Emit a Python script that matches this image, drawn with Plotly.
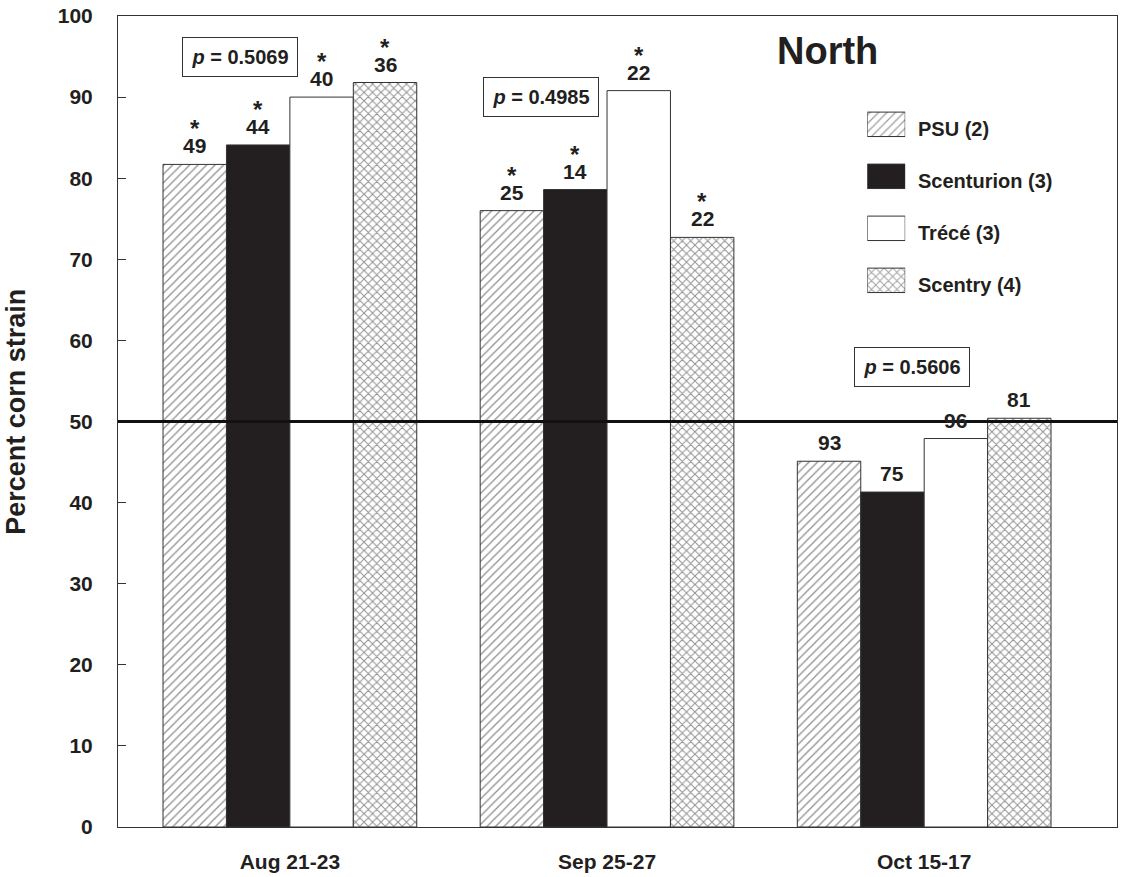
import plotly.graph_objects as go

# ---------------- data ----------------
categories = ["Aug 21-23", "Sep 25-27", "Oct 15-17"]
series_names = ["PSU (2)", "Scenturion (3)", "Trécé (3)", "Scentry (4)"]
psu = [81.7, 76.0, 45.1]
scenturion = [84.1, 78.6, 41.3]
trece = [90.0, 90.8, 47.9]
scentry = [91.8, 72.7, 50.4]
values = [psu, scenturion, trece, scentry]

n_psu = ["49", "25", "93"]
n_scenturion = ["44", "14", "75"]
n_trece = ["40", "22", "96"]
n_scentry = ["36", "22", "81"]
n_labels = [n_psu, n_scenturion, n_trece, n_scentry]

significant = [True, True, False]  # asterisks per date
p_values = ["0.5069", "0.4985", "0.5606"]
y_ticks = list(range(0, 101, 10))
ref_line = 50
panel_title = "North"
y_title = "Percent corn strain"

# ---------------- style ----------------
FONT = "Liberation Sans, Arial, Helvetica, sans-serif"
TXT = "#231f20"
BLACK = "#231f20"
fills = ["white", BLACK, "white", "white"]
shapes_pat = ["/", "", "", "x"]
solid = [0.22, 0.3, 0.3, 0.3]

fig = go.Figure()
for i, name in enumerate(series_names):
    fig.add_trace(go.Bar(
        x=list(range(len(categories))), y=values[i], name=name,
        marker=dict(color=fills[i],
                    line=dict(color="#333333", width=1),
                    pattern=dict(shape=shapes_pat[i], fgcolor="#222222",
                                 bgcolor="white", size=6, solidity=solid[i])),
        showlegend=False, xaxis="x", yaxis="y"))

# legend swatches on an auxiliary axis pair
LEG_DOM = [0.642, 0.8985]
fig.add_trace(go.Bar(
    y=list(range(len(series_names))), x=[1] * len(series_names),
    orientation="h", width=0.47, offsetgroup="leg",
    marker=dict(color=fills, line=dict(color="#333333", width=1),
                pattern=dict(shape=shapes_pat, fgcolor="#222222",
                             bgcolor="white", size=6, solidity=solid)),
    xaxis="x2", yaxis="y2", showlegend=False, hoverinfo="skip"))

annotations = []
nser = len(series_names)
bw = 0.8 / nser
for i in range(nser):
    for j in range(len(categories)):
        xpos = j + (i - (nser - 1) / 2) * bw
        annotations.append(dict(x=xpos, y=values[i][j], xref="x", yref="y",
                                text="<b>%s</b>" % n_labels[i][j], showarrow=False,
                                yanchor="bottom", yshift=5,
                                font=dict(family=FONT, size=21, color=TXT)))
        if significant[j]:
            annotations.append(dict(x=xpos, y=values[i][j], xref="x", yref="y",
                                    text="<b>*</b>", showarrow=False,
                                    yanchor="bottom", yshift=34,
                                    height=14, valign="top", borderpad=0,
                                    font=dict(family=FONT, size=24, color=TXT)))

# p-value boxes (positions in data coordinates)
p_pos = [(-0.157, 95.0), (0.792, 90.0), (1.962, 56.7)]
for (px, py), pv in zip(p_pos, p_values):
    annotations.append(dict(x=px, y=py, xref="x", yref="y",
                            text="<b><i>p</i> = %s</b>" % pv, showarrow=False,
                            bordercolor="#333333", borderwidth=1, borderpad=6,
                            bgcolor="white", width=102, height=26,
                            font=dict(family=FONT, size=20, color=TXT)))

# panel title
annotations.append(dict(x=0.71, y=0.957, xref="paper", yref="paper",
                        xanchor="center", yanchor="middle",
                        text="<b>%s</b>" % panel_title, showarrow=False,
                        font=dict(family=FONT, size=38, color=TXT)))
# y title
annotations.append(dict(x=-0.102, y=0.512, xref="paper", yref="paper",
                        xanchor="center", yanchor="middle",
                        text="<b>%s</b>" % y_title, showarrow=False, textangle=-90,
                        font=dict(family=FONT, size=27, color=TXT)))
# legend labels
nleg = len(series_names)
span = LEG_DOM[1] - LEG_DOM[0]
for k, name in enumerate(series_names):
    yk = LEG_DOM[1] - (k + 0.5) / nleg * span
    annotations.append(dict(x=0.799, y=yk, xref="paper", yref="paper",
                            xanchor="left", yanchor="middle",
                            text="<b>%s</b>" % name, showarrow=False, yshift=-5,
                            font=dict(family=FONT, size=20, color=TXT)))

fig.add_shape(type="line", xref="paper", yref="y", x0=0, x1=1,
              y0=ref_line, y1=ref_line, line=dict(color="#111111", width=3),
              layer="above")

fig.update_layout(
    width=1122, height=877,
    margin=dict(l=118, r=4, t=12, b=47),
    paper_bgcolor="white", plot_bgcolor="white",
    barmode="group", bargap=0.2, bargroupgap=0,
    annotations=annotations,
    xaxis=dict(range=[-0.542, 2.608], tickvals=list(range(len(categories))),
               ticktext=["<b>%s</b>" % c for c in categories], ticks="",
               showgrid=False, zeroline=False, showline=True, mirror=True,
               linecolor="#333333", linewidth=1, ticklabelstandoff=16,
               tickfont=dict(family=FONT, size=21, color=TXT)),
    yaxis=dict(range=[0, 100], tickvals=y_ticks,
               ticktext=["<b>%d</b>" % t for t in y_ticks],
               ticks="inside", ticklen=8, tickcolor="#333333",
               showgrid=False, zeroline=False, showline=True, mirror=True,
               linecolor="#333333", linewidth=1, ticklabelstandoff=20,
               tickfont=dict(family=FONT, size=21, color=TXT)),
    xaxis2=dict(domain=[0.750, 0.788], range=[0, 1], visible=False,
                anchor="y2", fixedrange=True),
    yaxis2=dict(domain=LEG_DOM, range=[3.5, -0.5], visible=False,
                anchor="x2", fixedrange=True),
)

fig.write_html("out.html", config={"displayModeBar": False},
               post_script="document.body.style.margin='0';document.body.style.overflow='hidden';")
